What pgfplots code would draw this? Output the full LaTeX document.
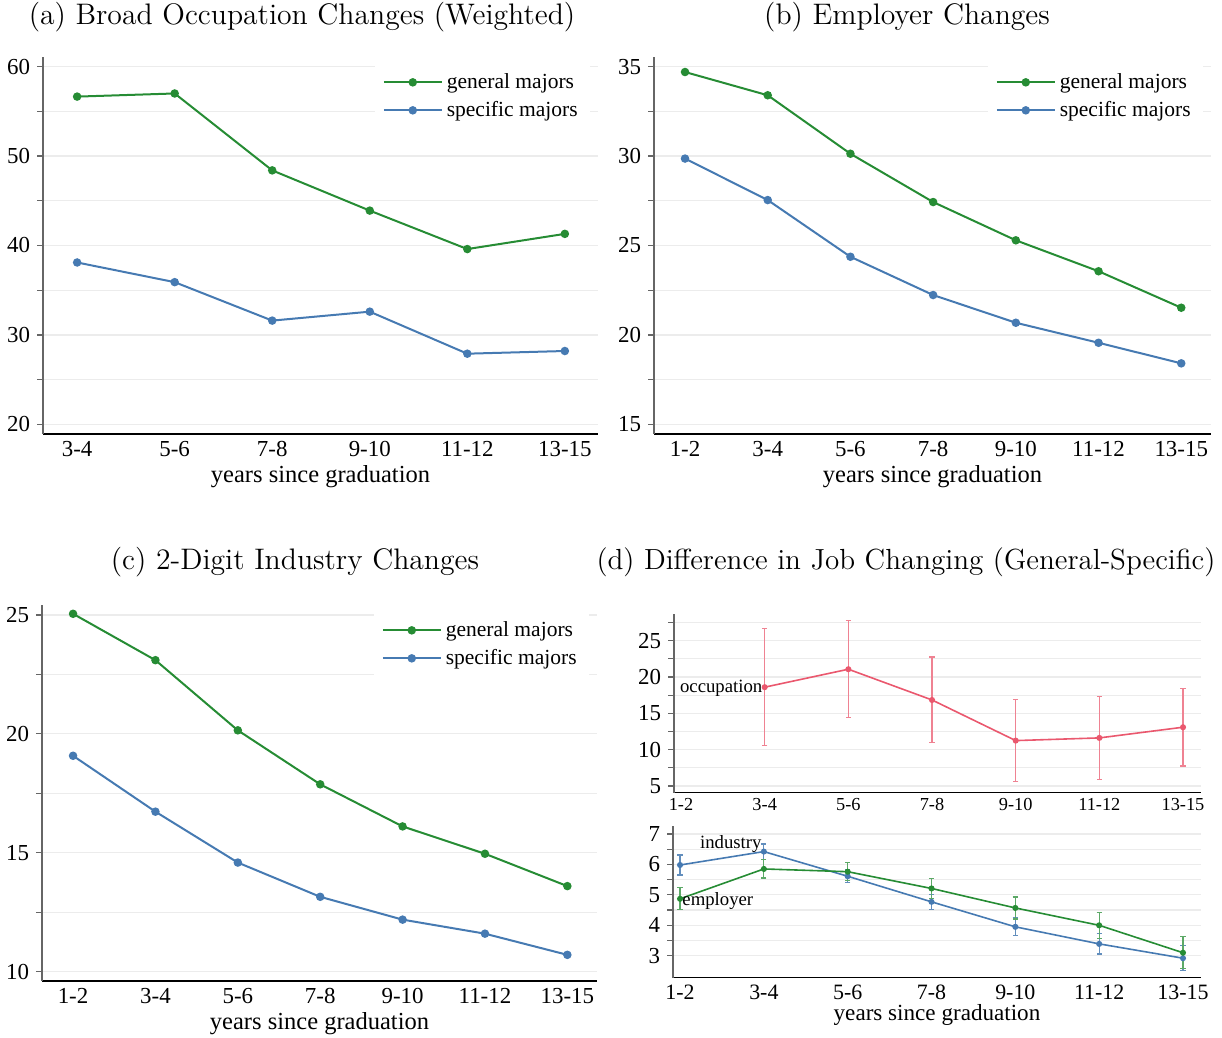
\documentclass[border=0pt]{standalone}
\usepackage{fontspec}
\usepackage{pgfplots}
\pgfplotsset{compat=1.18}
\newfontfamily\tnr{Liberation Serif}
\definecolor{cgreen}{RGB}{38,140,52}
\definecolor{cblue}{RGB}{70,122,178}
\definecolor{cpink}{RGB}{234,88,110}
\definecolor{cgrid}{RGB}{236,236,236}
\pgfplotsset{
  base/.style={
    scale only axis,
    anchor=south west,
    axis x line=bottom,
    axis y line=left,
    axis line style={-},
    x axis line style={black, line width=0.6bp},
    y axis line style={black!60, line width=0.6bp},
    xtick style={draw=none},
    ytick style={black!60, line width=0.6bp},
    every minor tick/.append style={black!60, line width=0.6bp},
    tick align=outside,
    major tick length=3bp, minor tick length=3bp,
    ymajorgrids, yminorgrids,
    major grid style={cgrid, line width=0.6bp},
    minor grid style={cgrid, line width=0.6bp},
    tick label style={font=\tnr\fontsize{11.5}{13}\selectfont},
    xticklabel style={yshift=3bp},
    /pgf/number format/assume math mode=true,
    label style={font=\tnr\fontsize{12.3}{14}\selectfont},
    xlabel style={yshift=2.5bp},
    xlabel={years since graduation},
    legend style={at={(1,1)}, anchor=north east, draw=none, fill=white,
      font=\tnr\fontsize{10.8}{14}\selectfont, inner xsep=4bp, inner ysep=3bp,
      row sep=1bp, xshift=-4bp, yshift=-3bp,
      every odd column/.append style={column sep=2.5bp}},
    legend cell align=left,
    legend image code/.code={\draw[mark repeat=2,mark phase=2,##1, line width=1bp] plot coordinates {(0bp,0bp) (14.5bp,0bp) (29bp,0bp)};},
  },
  gen/.style={cgreen, line width=1bp, mark=*, mark size=1.6bp},
  spe/.style={cblue, line width=1bp, mark=*, mark size=1.6bp},
}
\begin{document}
\begin{tikzpicture}
\useasboundingbox (0,0) rectangle (611bp,519bp);
% titles
\node[font=\fontsize{14.9}{17}\selectfont] at (151bp,510.5bp) {(a) Broad Occupation Changes (Weighted)};
\node[font=\fontsize{14.9}{17}\selectfont] at (453.5bp,510.5bp) {(b) Employer Changes};
\node[font=\fontsize{14.9}{17}\selectfont] at (147.5bp,237.75bp) {(c) 2-Digit Industry Changes};
\node[font=\fontsize{14.6}{17}\selectfont] at (453bp,237.75bp) {(d) Difference in Job Changing (General-Specific)};

% (a)
\begin{axis}[base, at={(21.5bp,302bp)}, width=277.5bp, height=188.5bp,
  xmin=-0.35, xmax=5.34, ymin=18.92, ymax=61.08,
  xtick={0,...,5}, xticklabels={3-4,5-6,7-8,9-10,11-12,13-15},
  ytick={20,30,40,50,60}, minor ytick={25,35,45,55}]
\addplot[gen] coordinates {(0,56.65) (1,57.0) (2,48.4) (3,43.9) (4,39.6) (5,41.3)};
\addlegendentry{general majors}
\addplot[spe] coordinates {(0,38.1) (1,35.9) (2,31.6) (3,32.6) (4,27.9) (5,28.2)};
\addlegendentry{specific majors}
\end{axis}

% (b)
\begin{axis}[base, at={(327bp,302bp)}, width=278.5bp, height=188.5bp,
  xmin=-0.375, xmax=6.36, ymin=14.46, ymax=35.54,
  xtick={0,...,6}, xticklabels={1-2,3-4,5-6,7-8,9-10,11-12,13-15},
  ytick={15,20,25,30,35}, minor ytick={17.5,22.5,27.5,32.5}]
\addplot[gen] coordinates {(0,34.7) (1,33.4) (2,30.13) (3,27.43) (4,25.29) (5,23.56) (6,21.52)};
\addlegendentry{general majors}
\addplot[spe] coordinates {(0,29.86) (1,27.54) (2,24.37) (3,22.23) (4,20.68) (5,19.56) (6,18.41)};
\addlegendentry{specific majors}
\end{axis}

% (c)
\begin{axis}[base, at={(21bp,28.5bp)}, width=277.5bp, height=188bp,
  xmin=-0.377, xmax=6.36, ymin=9.61, ymax=25.42,
  xtick={0,...,6}, xticklabels={1-2,3-4,5-6,7-8,9-10,11-12,13-15},
  ytick={10,15,20,25}, minor ytick={12.5,17.5,22.5}]
\addplot[gen] coordinates {(0,25.05) (1,23.1) (2,20.15) (3,17.88) (4,16.11) (5,14.96) (6,13.6)};
\addlegendentry{general majors}
\addplot[spe] coordinates {(0,19.08) (1,16.73) (2,14.59) (3,13.15) (4,12.19) (5,11.6) (6,10.71)};
\addlegendentry{specific majors}
\end{axis}

% (d) top
\begin{axis}[base, at={(337bp,122.65bp)}, width=263.5bp, height=89.35bp,
  xmin=-0.084, xmax=6.215, ymin=4.08, ymax=28.67,
  xlabel={},
  xtick={0,...,6}, xticklabels={1-2,3-4,5-6,7-8,9-10,11-12,13-15},
  xticklabel style={font=\tnr\fontsize{9.2}{10}\selectfont, yshift=0.5bp},
  ytick={5,10,15,20,25}, minor ytick={7.5,12.5,17.5,22.5,27.5}]
\addplot[cpink, line width=0.8bp, mark=*, mark size=1.1bp,
  error bars/.cd, y dir=both, y explicit,
  error bar style={cpink!75, line width=0.6bp},
  error mark options={rotate=90, cpink!75, mark size=1.3bp, line width=0.6bp}]
  coordinates {(1,18.6) +- (0,8.05) (2,21.07) +- (0,6.68) (3,16.84) +- (0,5.9) (4,11.25) +- (0,5.66) (5,11.62) +- (0,5.73) (6,13.09) +- (0,5.34)};
\node[anchor=east, font=\tnr\fontsize{9.4}{11}\selectfont, inner sep=1bp, yshift=-0.5bp] at (axis cs:1,18.6) {occupation};
\end{axis}

% (d) bottom
\begin{axis}[base, at={(336.5bp,30.15bp)}, width=264bp, height=75.85bp,
  xmin=-0.084, xmax=6.215, ymin=2.28, ymax=7.26,
  xtick={0,...,6}, xticklabels={1-2,3-4,5-6,7-8,9-10,11-12,13-15},
  xticklabel style={font=\tnr\fontsize{11}{12}\selectfont},
  label style={font=\tnr\fontsize{11.6}{13}\selectfont},
  xlabel style={yshift=2bp},
  ytick={3,4,5,6,7}, minor ytick={3.5,4.5,5.5,6.5}]
\addplot[cblue, line width=0.8bp, mark=*, mark size=1.1bp,
  error bars/.cd, y dir=both, y explicit,
  error bar style={cblue!85, line width=0.6bp},
  error mark options={rotate=90, cblue!85, mark size=1.3bp, line width=0.6bp}]
  coordinates {(0,5.98) +- (0,0.33) (1,6.42) +- (0,0.25) (2,5.61) +- (0,0.21) (3,4.77) +- (0,0.25) (4,3.95) +- (0,0.29) (5,3.39) +- (0,0.33) (6,2.92) +- (0,0.41)};
\addplot[cgreen, line width=0.8bp, mark=*, mark size=1.1bp,
  error bars/.cd, y dir=both, y explicit,
  error bar style={cgreen!75, line width=0.6bp},
  error mark options={rotate=90, cgreen!75, mark size=1.3bp, line width=0.6bp}]
  coordinates {(0,4.87) +- (0,0.36) (1,5.85) +- (0,0.30) (2,5.76) +- (0,0.30) (3,5.21) +- (0,0.32) (4,4.57) +- (0,0.36) (5,4.0) +- (0,0.42) (6,3.1) +- (0,0.52)};
\node[anchor=base east, font=\tnr\fontsize{9.4}{11}\selectfont, inner sep=1bp, yshift=1.5bp] at (axis cs:1,6.42) {industry};
\node[anchor=west, font=\tnr\fontsize{9.4}{11}\selectfont, inner sep=1bp, yshift=-1bp] at (axis cs:0,4.87) {employer};
\end{axis}
\end{tikzpicture}
\end{document}
